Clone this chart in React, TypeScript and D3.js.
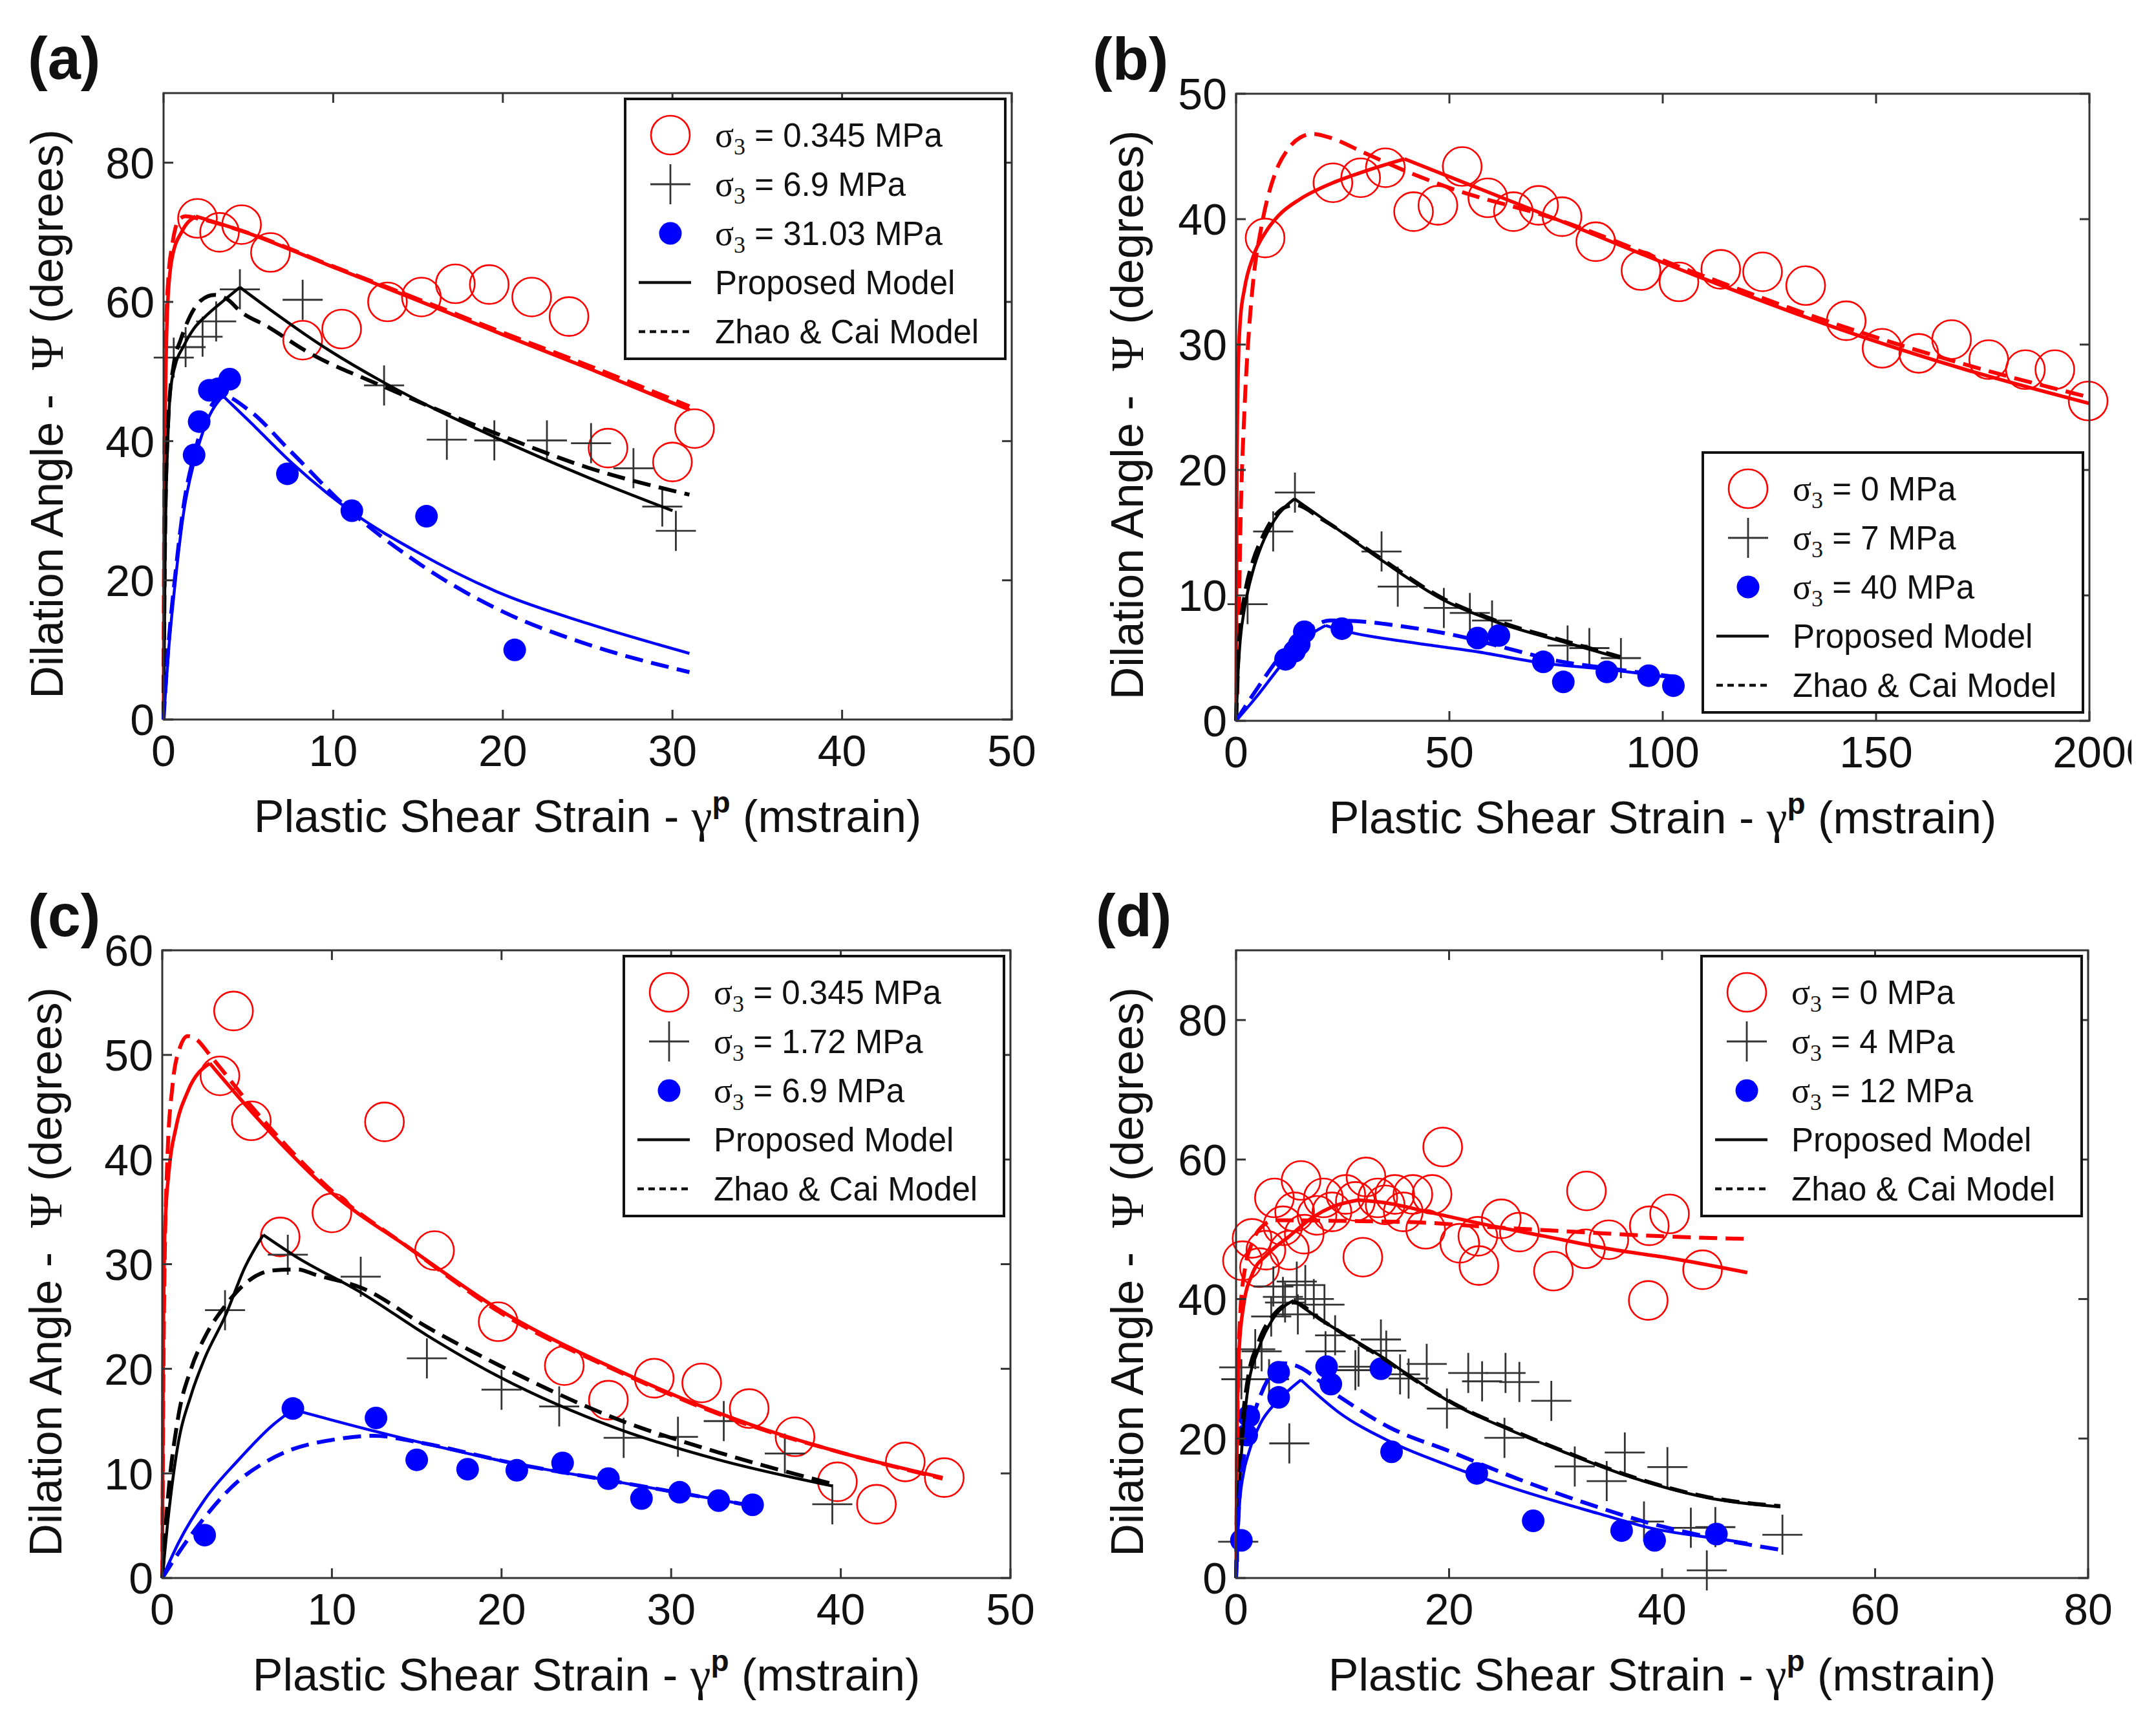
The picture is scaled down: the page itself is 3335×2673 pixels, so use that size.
import React, { useEffect, useRef } from 'react';
import * as d3 from 'd3';

type Pt = [number, number];

// ---------- panel (a) ----------
const aXTicks = [0, 10, 20, 30, 40, 50];
const aYTicks = [0, 20, 40, 60, 80];
const aStress = ['0.345', '6.9', '31.03'];
const aCircles: Pt[] = [[2.0, 72.0], [3.3, 70.0], [4.6, 71.1], [6.3, 67.1], [8.2, 54.5], [10.5, 56.1], [13.2, 60.0], [15.2, 60.7], [17.2, 62.6], [19.2, 62.5], [21.7, 60.7], [23.9, 57.9], [26.2, 39.0], [30.0, 37.0], [31.3, 41.8]];
const aPluses: Pt[] = [[0.6, 52.0], [1.3, 53.5], [2.3, 55.0], [3.1, 57.2], [4.5, 61.8], [8.2, 60.3], [13.0, 48.0], [16.7, 40.2], [19.5, 40.1], [22.6, 40.1], [25.2, 39.7], [27.7, 36.1], [29.4, 30.6], [30.2, 27.1]];
const aDots: Pt[] = [[1.8, 38.0], [2.1, 42.8], [2.7, 47.3], [3.2, 47.5], [3.9, 48.9], [7.3, 35.3], [11.1, 30.0], [15.5, 29.2], [20.7, 10.0]];
const aRedSolid: Pt[] = [[0, 0], [0.03, 20], [0.08, 40], [0.15, 52], [0.25, 60], [0.5, 66.3], [1.1, 70.2], [1.9, 72.3], [4.5, 70.3], [10, 65], [15, 60.2], [20, 55.3], [25, 50.5], [31, 44.5]];
const aRedDashed: Pt[] = [[0, 0], [0.03, 25], [0.08, 45], [0.15, 56], [0.3, 64], [0.5, 68], [0.9, 71.8], [1.3, 72.3], [2, 72], [4.5, 70.3], [10, 65.1], [15, 60.4], [20, 55.6], [25, 50.9], [31, 45]];
const aBlackSolid: Pt[] = [[0, 0], [0.1, 25], [0.25, 40], [0.4, 47], [0.7, 51], [1.15, 53.5], [1.8, 56.2], [2.55, 58.1], [3.7, 60.5], [4.5, 62.1], [6.5, 58.5], [9.4, 53.6], [13, 48.4], [16, 44.6], [19.5, 40.6], [25, 34.8], [30, 30]];
const aBlackDashed: Pt[] = [[0, 0], [0.1, 28], [0.3, 44], [0.6, 51], [1, 54.5], [1.3, 56.5], [1.8, 59], [2.2, 60.2], [3, 61], [3.8, 60.3], [4.5, 58.7], [6.1, 56.5], [8.5, 52.8], [13, 47.8], [19.5, 41.2], [25, 36.2], [31, 32.3]];
const aBlueSolid: Pt[] = [[0, 0], [0.3, 10], [0.7, 20], [1.2, 30], [1.8, 37], [2.5, 42.5], [3.5, 46.5], [5, 43], [7.5, 37], [11, 30], [15, 24], [20, 18], [25, 13.8], [31, 9.5]];
const aBlueDashed: Pt[] = [[0, 0], [0.3, 11], [0.7, 21], [1.2, 31], [1.8, 38], [2.5, 43.5], [3.5, 46.5], [5, 44.5], [7.5, 38.5], [11, 30], [15, 22.5], [20, 15.5], [25, 10.8], [31, 6.8]];

// ---------- panel (b) ----------
const bXTicks = [0, 50, 100, 150, 200];
const bXTickText = ['0', '50', '100', '150', '2000'];
const bYTicks = [0, 10, 20, 30, 40, 50];
const bStress = ['0', '7', '40'];
const bCircles: Pt[] = [[6.8, 38.5], [22.7, 42.9], [29.2, 43.3], [35.0, 44.1], [41.6, 40.6], [47.3, 41.1], [53.0, 44.2], [59.0, 41.7], [65.0, 40.6], [70.9, 41.1], [76.4, 40.2], [84.3, 38.2], [94.9, 35.9], [103.8, 35.0], [113.6, 36.0], [123.4, 35.8], [133.5, 34.7], [143.0, 31.9], [151.4, 29.7], [160.0, 29.3], [167.7, 30.4], [176.4, 28.8], [185.0, 28.0], [191.9, 28.0], [199.7, 25.5]];
const bPluses: Pt[] = [[2.7, 9.3], [8.7, 15.1], [13.8, 18.2], [34.1, 13.5], [37.9, 10.7], [48.7, 9.0], [54.8, 8.6], [60.0, 8.0], [77.7, 6.0], [82.8, 5.8], [90.2, 5.0]];
const bDots: Pt[] = [[11.6, 4.9], [13.7, 5.55], [14.8, 6.1], [16.0, 7.1], [24.8, 7.35], [56.6, 6.6], [61.6, 6.8], [72.0, 4.7], [76.7, 3.1], [86.9, 3.9], [96.7, 3.6], [102.5, 2.8]];
const bRedSolid: Pt[] = [[0, 0], [0.2, 20], [0.5, 28], [1, 32], [2, 34.5], [4, 37], [7, 39], [10, 40.3], [15, 41.6], [22, 42.8], [30, 43.8], [39.5, 44.8], [75, 40], [107, 35.6], [140, 31.4], [172, 27.9], [200, 25.3]];
const bRedDashed: Pt[] = [[0, 0], [0.5, 5], [1, 15], [2, 25], [3, 31], [4, 35], [6, 39.5], [9, 43.5], [12, 45.5], [15, 46.5], [18, 46.8], [22, 46.5], [30, 45.3], [40, 43.8], [50, 42.5], [75, 40], [107, 35.8], [140, 31.7], [172, 28.3], [200, 25.8]];
const bBlackSolid: Pt[] = [[0, 0], [0.5, 4], [1, 6.5], [2, 9], [4, 12], [6, 14], [9, 16], [13.7, 17.7], [20, 16.2], [33.7, 12.9], [48.8, 9.6], [60, 8], [77.7, 6.2], [90, 5]];
const bBlackDashed: Pt[] = [[0, 0], [0.5, 5], [1, 7.5], [2, 10], [4, 12.8], [6, 14.5], [9, 16.3], [12, 17.1], [14, 17.2], [20, 16.1], [33.7, 13], [48.8, 9.7], [60, 8.1], [77.7, 6.3], [90, 5.1]];
const bBlueSolid: Pt[] = [[0, 0], [5, 2], [10, 4.2], [14, 5.8], [18, 7], [21, 7.6], [25, 7.2], [40, 6.3], [56.6, 5.5], [72, 4.6], [87, 4.1], [103, 3.4]];
const bBlueDashed: Pt[] = [[0, 0], [5, 2.6], [10, 5], [14, 6.5], [18, 7.5], [22, 8], [30, 7.9], [37.5, 7.6], [51.6, 6.8], [65.6, 5.6], [75, 4.8], [87, 4.2], [103, 3.5]];

// ---------- panel (c) ----------
const cXTicks = [0, 10, 20, 30, 40, 50];
const cYTicks = [0, 10, 20, 30, 40, 50, 60];
const cStress = ['0.345', '1.72', '6.9'];
const cCircles: Pt[] = [[3.4, 48.0], [4.2, 54.2], [5.25, 43.7], [6.95, 32.6], [10.0, 34.9], [13.1, 43.6], [16.05, 31.3], [19.8, 24.5], [23.7, 20.3], [26.3, 17.0], [29.0, 19.1], [31.8, 18.65], [34.6, 16.2], [37.3, 13.5], [39.8, 9.2], [42.1, 7.05], [43.8, 11.1], [46.1, 9.6]];
const cPluses: Pt[] = [[3.7, 25.6], [7.4, 30.9], [11.7, 28.8], [15.6, 21.0], [20.0, 18.0], [23.4, 16.4], [27.2, 13.4], [30.4, 13.5], [33.1, 15.0], [36.7, 11.9], [39.5, 7.05]];
const cDots: Pt[] = [[2.5, 4.1], [7.7, 16.2], [12.6, 15.3], [15.0, 11.3], [18.0, 10.4], [20.9, 10.3], [23.6, 11.0], [26.3, 9.5], [28.25, 7.6], [30.5, 8.2], [32.8, 7.4], [34.8, 7.0]];
const cRedSolid: Pt[] = [[0, 0], [0.05, 20], [0.15, 33], [0.4, 39], [0.8, 43], [1.5, 46.5], [2.8, 49.2], [5.3, 44.5], [10, 36.8], [14.6, 31.5], [19.8, 25.7], [26.8, 19.9], [34.8, 14.6], [40, 12], [46, 9.6]];
const cRedDashed: Pt[] = [[0, 0], [0.1, 25], [0.3, 40], [0.6, 47], [1, 50.5], [1.5, 51.8], [2, 51.5], [2.8, 50], [5.3, 45], [10, 37], [14.6, 31.5], [19.8, 25.5], [26.8, 19.8], [34.8, 14.5], [40, 12], [46, 9.5]];
const cBlackSolid: Pt[] = [[0, 0], [0.3, 5], [0.9, 12.5], [1.7, 17.5], [2.5, 21], [3.7, 25], [4.9, 29.8], [5.95, 32.8], [7.8, 30.8], [11.8, 27.2], [15.6, 23.2], [19.9, 19.2], [26.8, 14.3], [32.8, 11.3], [39.5, 8.8]];
const cBlackDashed: Pt[] = [[0, 0], [0.3, 7], [0.9, 15], [1.7, 20], [2.5, 23], [3.7, 26], [5, 28.3], [6.5, 29.4], [8, 29.5], [9, 29], [11.8, 27.7], [15.6, 24], [19.9, 20.3], [26.8, 15.2], [32.8, 12], [39.5, 9]];
const cBlueSolid: Pt[] = [[0, 0], [1, 3.5], [2.5, 7.5], [4.5, 11.3], [6.5, 14.6], [7.7, 16.1], [12.6, 14], [20.9, 10.9], [26.8, 9.2], [34.8, 6.9]];
const cBlueDashed: Pt[] = [[0, 0], [1, 2.5], [2.5, 5.8], [4.5, 9.3], [6, 11], [7.5, 12.2], [10, 13.2], [12.5, 13.6], [15, 13], [20.9, 10.9], [26.8, 9.2], [34.8, 6.9]];

// ---------- panel (d) ----------
const dXTicks = [0, 20, 40, 60, 80];
const dYTicks = [0, 20, 40, 60, 80];
const dStress = ['0', '4', '12'];
const dCircles: Pt[] = [[0.6, 45.5], [1.5, 48.7], [2.2, 44.5], [2.8, 47], [3.6, 54.5], [4.4, 50.5], [5.0, 47], [5.5, 52.5], [6.1, 57], [6.4, 49.3], [7.6, 52], [8.2, 54.5], [9.0, 52.5], [10.3, 55], [11.2, 54], [11.9, 46], [12.2, 57.5], [13.3, 54.5], [14.0, 53.5], [14.9, 55], [15.7, 52.5], [16.6, 55], [17.8, 50], [18.4, 55], [19.4, 61.8], [21.0, 48], [22.7, 49], [22.8, 44.8], [24.9, 51.5], [26.6, 49.6], [29.8, 44], [32.9, 55.5], [32.8, 47.2], [35.0, 48.5], [38.7, 39.8], [38.8, 50.5], [40.7, 52.2], [43.8, 44.2]];
const dPluses: Pt[] = [[0.2, 5.2], [0.3, 30.2], [0.5, 28.5], [1.8, 32.8], [2.4, 32.5], [3.1, 28.5], [3.3, 37.5], [3.5, 41.8], [4.4, 40.3], [4.6, 39.5], [5.0, 19.3], [5.7, 42.5], [5.8, 37.8], [6.5, 42], [7.3, 40], [8.4, 32.5], [8.3, 39.2], [9.3, 34.8], [11.2, 29.8], [11.5, 30.3], [13.6, 34.2], [14.1, 32.6], [15.4, 29.2], [16.2, 28.6], [17.9, 30.7], [19.8, 24.3], [21.8, 29.4], [23.1, 28.2], [25.3, 29.4], [26.6, 28.1], [25.2, 20.1], [29.6, 25.4], [31.8, 16], [34.8, 13.9], [36.5, 18], [40.5, 15.9], [38.3, 8.1], [42.7, 7.2], [45.0, 7.3], [44.2, 1.1], [51.3, 6.2]];
const dDots: Pt[] = [[0.5, 5.4], [1.0, 20.5], [1.2, 23.2], [4.0, 29.5], [4.0, 25.9], [8.5, 30.3], [8.9, 27.8], [13.6, 30.0], [14.6, 18.1], [22.6, 15.0], [27.9, 8.2], [36.2, 6.8], [39.3, 5.4], [45.1, 6.3]];
const dRedSolid: Pt[] = [[0, 0], [0.1, 22], [0.3, 33], [0.7, 39], [1.5, 43.5], [3, 46.5], [5, 49], [7, 51.5], [9, 53.2], [11.5, 54.2], [14, 53.8], [18, 52.5], [23, 50.8], [29, 49], [35, 47.2], [41.4, 45.7], [48, 43.8]];
const dRedDashed: Pt[] = [[0, 0], [0.15, 25], [0.4, 38], [0.8, 44], [1.5, 48], [2.5, 50.5], [3.7, 51.3], [10, 51.2], [17, 51], [24, 50.3], [30, 49.8], [40, 49], [48.4, 48.6]];
const dBlackSolid: Pt[] = [[0, 0], [0.3, 12], [0.6, 20], [1.1, 27], [2.1, 32.8], [3.4, 37], [5.4, 39.8], [8, 37], [11, 34.2], [14, 31.4], [15.8, 29.5], [20.7, 24.7], [25.6, 21.3], [30.4, 18.3], [37.4, 14.3], [44.3, 11.5], [51.1, 10.2]];
const dBlackDashed: Pt[] = [[0, 0], [0.3, 14], [0.6, 22], [1.1, 28.5], [2.1, 33.8], [3.4, 37.5], [5.4, 39.5], [8, 37], [11, 34.1], [14, 31.3], [15.8, 29.4], [20.7, 24.8], [25.6, 21.4], [30.4, 18.4], [37.4, 14.4], [44.3, 11.6], [51.1, 10.3]];
const dBlueSolid: Pt[] = [[0, 0], [0.3, 10], [0.7, 15], [1.2, 18], [2.3, 22.2], [3.65, 25], [5, 27], [6.1, 28.4], [9.6, 23.8], [14.4, 19.6], [20, 16.1], [27, 12.4], [33.9, 9.3], [39.1, 7.1], [45.4, 5.6], [48, 5]];
const dBlueDashed: Pt[] = [[0, 0], [0.3, 11], [0.7, 17], [1.2, 21], [2, 25], [3, 28.5], [4.3, 30.8], [5.5, 30.5], [9.6, 26.1], [14.4, 21.6], [20, 18.2], [27, 13.9], [33.9, 10.2], [39, 7.8], [44.3, 5.9], [51.3, 4]];

const SANS = 'Arial, "Liberation Sans", Helvetica, sans-serif';
const SERIF = '"Times New Roman", "Liberation Serif", "DejaVu Serif", serif';
const RED = '#ff0000';
const BLUE = '#0000ff';
const GREY = '#333333';

interface Model { pts: Pt[]; color: string; dashed: boolean }
interface Panel {
    tag: string;
    left: number; top: number; width: number; height: number;
    xMax: number; yMax: number;
    xTicks: number[]; xTickText: string[]; yTicks: number[];
    circles: Pt[]; pluses: Pt[]; dots: Pt[];
    models: Model[];
    stress: string[];
    legendAtBottom: boolean;
    yLabelGap: number; tagGap: number;
}

const models = (rs: Pt[], rd: Pt[], ks: Pt[], kd: Pt[], bs: Pt[], bd: Pt[]): Model[] => [
    { pts: rd, color: RED, dashed: true },
    { pts: rs, color: RED, dashed: false },
    { pts: kd, color: '#000', dashed: true },
    { pts: ks, color: '#000', dashed: false },
    { pts: bd, color: BLUE, dashed: true },
    { pts: bs, color: BLUE, dashed: false },
];

const panels: Panel[] = [
    {
        tag: '(a)', left: 253, top: 144, width: 1312, height: 969, xMax: 50, yMax: 90,
        xTicks: aXTicks, xTickText: aXTicks.map(String), yTicks: aYTicks,
        circles: aCircles, pluses: aPluses, dots: aDots,
        models: models(aRedSolid, aRedDashed, aBlackSolid, aBlackDashed, aBlueSolid, aBlueDashed),
        stress: aStress, legendAtBottom: false, yLabelGap: 156, tagGap: 210,
    },
    {
        tag: '(b)', left: 1912, top: 145, width: 1320, height: 970, xMax: 200, yMax: 50,
        xTicks: bXTicks, xTickText: bXTickText, yTicks: bYTicks,
        circles: bCircles, pluses: bPluses, dots: bDots,
        models: models(bRedSolid, bRedDashed, bBlackSolid, bBlackDashed, bBlueSolid, bBlueDashed),
        stress: bStress, legendAtBottom: true, yLabelGap: 144, tagGap: 222,
    },
    {
        tag: '(c)', left: 251, top: 1470, width: 1312, height: 971, xMax: 50, yMax: 60,
        xTicks: cXTicks, xTickText: cXTicks.map(String), yTicks: cYTicks,
        circles: cCircles, pluses: cPluses, dots: cDots,
        models: models(cRedSolid, cRedDashed, cBlackSolid, cBlackDashed, cBlueSolid, cBlueDashed),
        stress: cStress, legendAtBottom: false, yLabelGap: 156, tagGap: 208,
    },
    {
        tag: '(d)', left: 1912, top: 1470, width: 1318, height: 971, xMax: 80, yMax: 90,
        xTicks: dXTicks, xTickText: dXTicks.map(String), yTicks: dYTicks,
        circles: dCircles, pluses: dPluses, dots: dDots,
        models: models(dRedSolid, dRedDashed, dBlackSolid, dBlackDashed, dBlueSolid, dBlueDashed),
        stress: dStress, legendAtBottom: false, yLabelGap: 144, tagGap: 217,
    },
];

const TICK = 15;
const TICK_FS = 68;
const LEG_W = 588;
const LEG_H = 402;
const LEG_FS = 51;
const CIRCLE_R = 30;
const PLUS_ARM = 31;
const DOT_R = 17.5;

const plusPath = (cx: number, cy: number) =>
    `M${cx - PLUS_ARM},${cy}h${2 * PLUS_ARM}M${cx},${cy - PLUS_ARM}v${2 * PLUS_ARM}`;

function drawPanel(svg: d3.Selection<SVGSVGElement, unknown, null, undefined>, p: Panel) {
    const right = p.left + p.width;
    const bottom = p.top + p.height;
    const x = d3.scaleLinear().domain([0, p.xMax]).range([p.left, right]);
    const y = d3.scaleLinear().domain([0, p.yMax]).range([bottom, p.top]);
    const g = svg.append('g');

    // data markers
    g.append('g').selectAll('circle').data(p.circles).join('circle')
        .attr('cx', d => x(d[0])).attr('cy', d => y(d[1])).attr('r', CIRCLE_R)
        .attr('fill', 'none').attr('stroke', RED).attr('stroke-width', 2.6);
    g.append('g').selectAll('path').data(p.pluses).join('path')
        .attr('d', d => plusPath(x(d[0]), y(d[1])))
        .attr('fill', 'none').attr('stroke', GREY).attr('stroke-width', 2.8);
    g.append('g').selectAll('circle').data(p.dots).join('circle')
        .attr('cx', d => x(d[0])).attr('cy', d => y(d[1])).attr('r', DOT_R)
        .attr('fill', BLUE);

    // model curves: proposed model has a sharp kink at its peak, so the
    // rising and falling branches are smoothed separately
    const smooth = d3.line<Pt>().x(d => x(d[0])).y(d => y(d[1])).curve(d3.curveMonotoneX);
    const pathFor = (m: Model) => {
        if (m.dashed) return smooth(m.pts) ?? '';
        const k = d3.maxIndex(m.pts, d => d[1]);
        return (smooth(m.pts.slice(0, k + 1)) ?? '') + (smooth(m.pts.slice(k)) ?? '');
    };
    g.append('g').selectAll('path').data(p.models).join('path')
        .attr('d', pathFor)
        .attr('fill', 'none')
        .attr('stroke', d => d.color)
        .attr('stroke-width', d => (d.dashed ? 6 : d.color === RED ? 5.5 : 4.5))
        .attr('stroke-linejoin', 'round')
        .attr('stroke-dasharray', d => (d.dashed ? '28,13' : null));

    // frame and inward ticks on all four sides
    g.append('rect')
        .attr('x', p.left).attr('y', p.top).attr('width', p.width).attr('height', p.height)
        .attr('fill', 'none').attr('stroke', GREY).attr('stroke-width', 3);
    const ticks = g.append('g').attr('stroke', GREY).attr('stroke-width', 3);
    ticks.selectAll('.xb').data(p.xTicks).join('line')
        .attr('x1', d => x(d)).attr('x2', d => x(d)).attr('y1', bottom).attr('y2', bottom - TICK);
    ticks.selectAll('.xt').data(p.xTicks).join('line')
        .attr('x1', d => x(d)).attr('x2', d => x(d)).attr('y1', p.top).attr('y2', p.top + TICK);
    ticks.selectAll('.yl').data(p.yTicks).join('line')
        .attr('y1', d => y(d)).attr('y2', d => y(d)).attr('x1', p.left).attr('x2', p.left + TICK);
    ticks.selectAll('.yr').data(p.yTicks).join('line')
        .attr('y1', d => y(d)).attr('y2', d => y(d)).attr('x1', right).attr('x2', right - TICK);

    // tick labels
    const digitW = 0.556 * TICK_FS;
    g.append('g').attr('clip-path', 'url(#pageClip)')
        .attr('font-family', SANS).attr('font-size', TICK_FS).attr('fill', '#111')
        .selectAll('text').data(p.xTicks).join('text')
        .attr('x', (d, i) => (p.xTickText[i].length > String(d).length ? x(d) - (String(d).length * digitW) / 2 : x(d)))
        .attr('text-anchor', (d, i) => (p.xTickText[i].length > String(d).length ? 'start' : 'middle'))
        .attr('y', bottom + 72)
        .text((d, i) => p.xTickText[i]);
    g.append('g')
        .attr('font-family', SANS).attr('font-size', TICK_FS).attr('fill', '#111')
        .selectAll('text').data(p.yTicks).join('text')
        .attr('x', p.left - 14).attr('y', d => y(d)).attr('dy', '0.36em')
        .attr('text-anchor', 'end')
        .text(d => String(d));

    // axis titles
    const xl = g.append('text')
        .attr('x', p.left + p.width / 2).attr('y', bottom + 174)
        .attr('text-anchor', 'middle').attr('font-family', SANS).attr('font-size', 70).attr('fill', '#111');
    xl.append('tspan').text('Plastic Shear Strain - ');
    xl.append('tspan').attr('font-family', SERIF).attr('font-size', 72).text('γ');
    xl.append('tspan').attr('font-weight', 'bold').attr('font-size', 46).attr('dy', -30).text('p');
    xl.append('tspan').attr('dy', 30).text(' (mstrain)');

    const yl = g.append('text')
        .attr('transform', `translate(${p.left - p.yLabelGap},${p.top + p.height / 2 + 12}) rotate(-90)`)
        .attr('text-anchor', 'middle').attr('font-family', SANS).attr('font-size', 70).attr('fill', '#111');
    yl.append('tspan').text('Dilation Angle - ');
    yl.append('tspan').attr('dx', 18).attr('font-family', SERIF).attr('font-size', 72).text('Ψ');
    yl.append('tspan').text(' (degrees)');

    // panel tag
    g.append('text')
        .attr('x', p.left - p.tagGap).attr('y', p.top - 22)
        .attr('font-family', SANS).attr('font-weight', 'bold').attr('font-size', 92).attr('fill', '#111')
        .text(p.tag);

    // legend
    const lx = right - 10 - LEG_W;
    const ly = p.legendAtBottom ? bottom - 13 - LEG_H : p.top + 9;
    const leg = g.append('g').attr('transform', `translate(${lx},${ly})`);
    leg.append('rect').attr('width', LEG_W).attr('height', LEG_H)
        .attr('fill', '#fff').attr('stroke', '#111').attr('stroke-width', 4);
    const rowY = (i: number) => 56 + i * 76;
    const mx = 70;
    leg.append('circle').attr('cx', mx).attr('cy', rowY(0)).attr('r', CIRCLE_R)
        .attr('fill', 'none').attr('stroke', RED).attr('stroke-width', 2.6);
    leg.append('path').attr('d', plusPath(mx, rowY(1)))
        .attr('stroke', GREY).attr('stroke-width', 2.8);
    leg.append('circle').attr('cx', mx).attr('cy', rowY(2)).attr('r', DOT_R).attr('fill', BLUE);
    leg.append('line').attr('x1', 21).attr('x2', 102).attr('y1', rowY(3)).attr('y2', rowY(3))
        .attr('stroke', '#111').attr('stroke-width', 4.5);
    leg.append('line').attr('x1', 21).attr('x2', 102).attr('y1', rowY(4)).attr('y2', rowY(4))
        .attr('stroke', '#111').attr('stroke-width', 4.5).attr('stroke-dasharray', '10,7');

    const labels = leg.append('g').attr('font-family', SANS).attr('font-size', LEG_FS).attr('fill', '#111');
    p.stress.forEach((s, i) => {
        const t = labels.append('text').attr('x', 139).attr('y', rowY(i) + 18);
        t.append('tspan').attr('font-family', SERIF).attr('font-size', 54).text('σ');
        t.append('tspan').attr('font-family', SERIF).attr('font-size', 36).attr('dy', 12).text('3');
        t.append('tspan').attr('dy', -12).text(` = ${s} MPa`);
    });
    labels.append('text').attr('x', 139).attr('y', rowY(3) + 18).text('Proposed Model');
    labels.append('text').attr('x', 139).attr('y', rowY(4) + 18).text('Zhao & Cai Model');
}

const App: React.FC = () => {
    const svgRef = useRef<SVGSVGElement>(null);

    useEffect(() => {
        const svg = d3.select(svgRef.current!);
        svg.selectAll('*').remove();
        svg.append('rect').attr('width', 3335).attr('height', 2673).attr('fill', '#fff');
        svg.append('defs').append('clipPath').attr('id', 'pageClip')
            .append('rect').attr('x', 0).attr('y', 0).attr('width', 3297).attr('height', 2673);
        panels.forEach(p => drawPanel(svg, p));
    }, []);

    return (
        <>
            <style>{'body{margin:0;background:#fff}'}</style>
            <svg ref={svgRef} width={3335} height={2673} style={{ display: 'block' }} />
        </>
    );
};

export default App;
